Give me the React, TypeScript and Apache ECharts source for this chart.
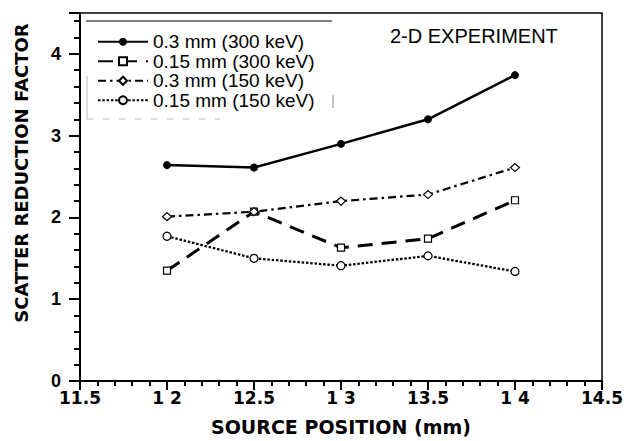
import React, { useEffect, useRef } from "react";
import * as echarts from "echarts";

const positions = [12, 12.5, 13, 13.5, 14];
const s300_03 = [2.64, 2.61, 2.9, 3.2, 3.74];
const s300_015 = [1.35, 2.07, 1.63, 1.74, 2.21];
const s150_03 = [2.01, 2.07, 2.2, 2.28, 2.61];
const s150_015 = [1.77, 1.5, 1.41, 1.53, 1.34];
const seriesNames = [
  "0.3 mm (300 keV)",
  "0.15 mm (300 keV)",
  "0.3 mm (150 keV)",
  "0.15 mm (150 keV)",
];
const xTickLabels = ["11.5", "1 2", "12.5", "1 3", "13.5", "1 4", "14.5"];
const yTickLabels = ["0", "1", "2", "3", "4"];

const pair = (ys: number[]) => positions.map((x, i) => [x, ys[i]]);

export default function App() {
  const ref = useRef<HTMLDivElement>(null);
  useEffect(() => {
    if (!ref.current) return;
    const chart = echarts.init(ref.current, null, { renderer: "svg" });
    const openItem = { color: "#fff", borderColor: "#000", borderWidth: 1.2 };
    chart.setOption({
      animation: false,
      backgroundColor: "#fff",
      grid: {
        left: 80,
        top: 13,
        width: 522,
        height: 370,
        show: true,
        borderColor: "#000",
        borderWidth: 1.5,
      },
      legend: {
        orient: "vertical",
        left: 92,
        top: 27,
        padding: 5,
        itemWidth: 50,
        itemHeight: 10,
        itemGap: 0,
        data: seriesNames,
        textStyle: {
          fontFamily: "Liberation Sans",
          fontSize: 19,
          color: "#000",
          lineHeight: 19.5,
        },
      },
      xAxis: {
        type: "value",
        min: 11.5,
        max: 14.5,
        interval: 0.5,
        name: "SOURCE POSITION (mm)",
        nameLocation: "middle",
        nameGap: 36,
        nameTextStyle: {
          fontFamily: "DejaVu Sans",
          fontWeight: "bold",
          fontSize: 19,
          color: "#000",
        },
        axisLine: { lineStyle: { color: "#000", width: 2 } },
        axisTick: { show: true, length: 9, lineStyle: { color: "#000", width: 2 } },
        minorTick: { show: true, splitNumber: 5, length: 5, lineStyle: { color: "#000", width: 2 } },
        splitLine: { show: false },
        axisLabel: {
          margin: 8,
          fontFamily: "DejaVu Sans",
          fontWeight: "bold",
          fontSize: 17,
          color: "#000",
          formatter: (v: number) => xTickLabels[Math.round((v - 11.5) / 0.5)] ?? "",
        },
      },
      yAxis: {
        type: "value",
        min: 0,
        max: 4.5,
        interval: 1,
        axisLine: { show: true, lineStyle: { color: "#000", width: 2 } },
        axisTick: { show: true, length: 11, lineStyle: { color: "#000", width: 2 } },
        minorTick: { show: true, splitNumber: 5, length: 6, lineStyle: { color: "#000", width: 2 } },
        splitLine: { show: false },
        axisLabel: {
          margin: 19,
          showMaxLabel: false,
          fontFamily: "Liberation Sans",
          fontWeight: "bold",
          fontSize: 18,
          color: "#000",
          formatter: (v: number) => (Number.isInteger(v) ? yTickLabels[v] ?? "" : ""),
        },
      },
      graphic: [
        {
          type: "text",
          left: 390,
          top: 26,
          style: {
            text: "2-D EXPERIMENT",
            fontFamily: "Liberation Sans",
            fontSize: 20,
            fill: "#000",
          },
        },
        {
          type: "text",
          x: 21,
          y: 173,
          rotation: Math.PI / 2,
          style: {
            text: "SCATTER REDUCTION FACTOR",
            fontFamily: "DejaVu Sans",
            fontWeight: "bold",
            fontSize: 18,
            fill: "#000",
            align: "center",
            verticalAlign: "middle",
          },
        },
        {
          type: "line",
          shape: { x1: 86, y1: 21, x2: 332, y2: 21 },
          style: { stroke: "#000", lineWidth: 1 },
        },
        {
          type: "line",
          shape: { x1: 87, y1: 76, x2: 87, y2: 119 },
          style: { stroke: "#bbb", lineWidth: 1 },
        },
        {
          type: "line",
          shape: { x1: 87, y1: 119, x2: 220, y2: 119 },
          style: { stroke: "#bbb", lineWidth: 1, lineDash: [6, 10] },
        },
        {
          type: "line",
          shape: { x1: 333, y1: 95, x2: 333, y2: 108 },
          style: { stroke: "#888", lineWidth: 1 },
        },
      ],
      series: [
        {
          name: seriesNames[0],
          type: "line",
          data: pair(s300_03),
          symbol: "circle",
          symbolSize: 8,
          itemStyle: { color: "#000" },
          lineStyle: { color: "#000", width: 2.5, type: "solid" },
        },
        {
          name: seriesNames[1],
          type: "line",
          data: pair(s300_015),
          symbol: "rect",
          symbolSize: 7,
          itemStyle: openItem,
          lineStyle: { color: "#000", width: 3, type: [15, 9] },
        },
        {
          name: seriesNames[2],
          type: "line",
          data: pair(s150_03),
          symbol: "diamond",
          symbolSize: [9, 8],
          itemStyle: openItem,
          lineStyle: { color: "#000", width: 2.2, type: [8, 4, 2.5, 4] },
        },
        {
          name: seriesNames[3],
          type: "line",
          data: pair(s150_015),
          symbol: "circle",
          symbolSize: 8,
          itemStyle: openItem,
          lineStyle: { color: "#000", width: 2.3, type: [2.5, 1.8] },
        },
      ],
    });
    return () => chart.dispose();
  }, []);
  return (
    <div
      ref={ref}
      style={{ position: "fixed", left: 0, top: 0, width: 630, height: 441 }}
    />
  );
}
